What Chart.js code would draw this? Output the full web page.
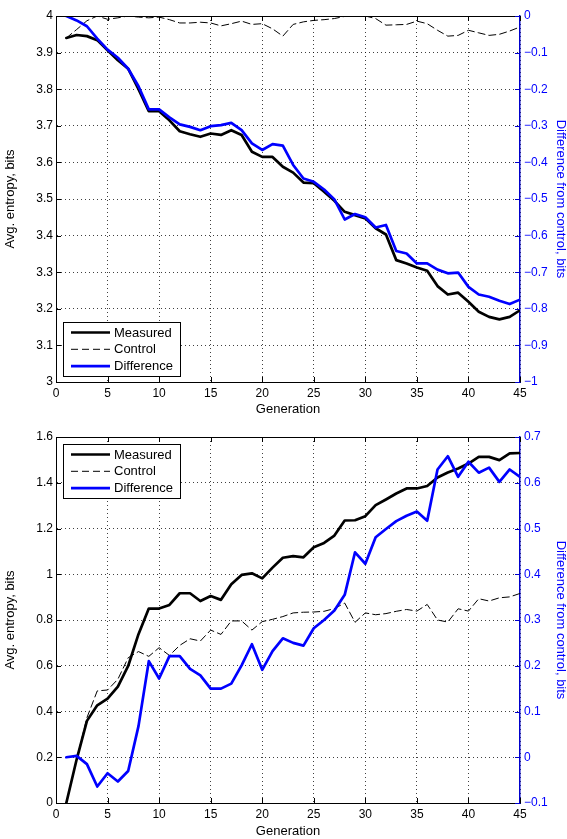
<!DOCTYPE html>
<html>
<head>
<meta charset="utf-8">
<script src="https://cdn.jsdelivr.net/npm/chart.js@4.4.1/dist/chart.umd.min.js"></script>
<style>
  html, body { margin: 0; padding: 0; background: #fff; }
  #page { position: relative; width: 567px; height: 839px; }
  .panel { position: absolute; left: 0; width: 567px; }
  #topPanel { top: 0; height: 420px; }
  #bottomPanel { top: 420px; height: 419px; }
</style>
</head>
<body>
<div id="page">
  <div class="panel" id="topPanel"><canvas id="topChart"></canvas></div>
  <div class="panel" id="bottomPanel"><canvas id="bottomChart"></canvas></div>
</div>
<script>
/**
 * Entropy per generation - two plotyy style panels
 */

const generations = [1, 2, 3, 4, 5, 6, 7, 8, 9, 10, 11, 12, 13, 14, 15, 16, 17, 18, 19, 20, 21, 22, 23,
  24, 25, 26, 27, 28, 29, 30, 31, 32, 33, 34, 35, 36, 37, 38, 39, 40, 41, 42, 43, 44, 45];
const xTicks = [0, 5, 10, 15, 20, 25, 30, 35, 40, 45];
const seriesNames = ['Measured', 'Control', 'Difference'];

// top panel
const topMeasured = [3.940, 3.948, 3.945, 3.934, 3.906, 3.879, 3.856, 3.800, 3.740, 3.740, 3.715, 3.685,
  3.677, 3.670, 3.679, 3.675, 3.688, 3.675, 3.629, 3.615, 3.615, 3.588, 3.572, 3.545, 3.543, 3.520, 3.495,
  3.465, 3.456, 3.447, 3.420, 3.403, 3.333, 3.324, 3.313, 3.304, 3.262, 3.239, 3.244, 3.219, 3.192, 3.178,
  3.171, 3.178, 3.196];
const topControl = [3.940, 3.963, 3.987, 4.000, 3.991, 3.995, 4.000, 3.997, 3.995, 3.997, 3.990, 3.981,
  3.981, 3.983, 3.981, 3.973, 3.979, 3.986, 3.977, 3.979, 3.965, 3.945, 3.977, 3.984, 3.988, 3.990, 3.993,
  3.999, 4.000, 4.000, 3.993, 3.975, 3.976, 3.977, 3.986, 3.979, 3.961, 3.945, 3.947, 3.961, 3.954, 3.947,
  3.950, 3.959, 3.970];
const topDifference = [0, -0.012, -0.028, -0.062, -0.092, -0.114, -0.144, -0.192, -0.255, -0.255, -0.277,
  -0.296, -0.303, -0.312, -0.301, -0.298, -0.292, -0.312, -0.348, -0.366, -0.350, -0.354, -0.407, -0.444,
  -0.453, -0.474, -0.501, -0.556, -0.541, -0.550, -0.578, -0.571, -0.642, -0.649, -0.676, -0.676, -0.693,
  -0.703, -0.701, -0.740, -0.761, -0.767, -0.778, -0.787, -0.775];
const topLeftTicks = [3, 3.1, 3.2, 3.3, 3.4, 3.5, 3.6, 3.7, 3.8, 3.9, 4];
const topRightTicks = [-1, -0.9, -0.8, -0.7, -0.6, -0.5, -0.4, -0.3, -0.2, -0.1, 0];

// bottom panel
const bottomMeasured = [0, 0.190, 0.359, 0.427, 0.456, 0.509, 0.599, 0.738, 0.850, 0.850, 0.866, 0.917,
  0.917, 0.883, 0.905, 0.888, 0.956, 0.997, 1.004, 0.982, 1.029, 1.072, 1.079, 1.074, 1.118, 1.137, 1.169,
  1.235, 1.236, 1.254, 1.302, 1.327, 1.353, 1.375, 1.375, 1.386, 1.423, 1.445, 1.462, 1.484, 1.513, 1.513,
  1.499, 1.528, 1.530];
const bottomControl = [0, 0.190, 0.373, 0.490, 0.494, 0.541, 0.635, 0.662, 0.641, 0.679, 0.645, 0.689,
  0.718, 0.708, 0.756, 0.737, 0.796, 0.796, 0.756, 0.793, 0.803, 0.815, 0.831, 0.834, 0.835, 0.838, 0.850,
  0.874, 0.790, 0.831, 0.823, 0.828, 0.838, 0.846, 0.839, 0.868, 0.800, 0.791, 0.849, 0.839, 0.893, 0.883,
  0.897, 0.901, 0.916];
const bottomDifference = [0, 0.003, -0.015, -0.064, -0.035, -0.053, -0.030, 0.068, 0.210, 0.172, 0.221,
  0.221, 0.193, 0.179, 0.150, 0.150, 0.161, 0.201, 0.247, 0.191, 0.232, 0.260, 0.250, 0.244, 0.282, 0.300,
  0.321, 0.355, 0.448, 0.423, 0.481, 0.499, 0.516, 0.528, 0.537, 0.517, 0.629, 0.658, 0.613, 0.646, 0.622,
  0.633, 0.602, 0.629, 0.613];
const bottomLeftTicks = [0, 0.2, 0.4, 0.6, 0.8, 1, 1.2, 1.4, 1.6];
const bottomRightTicks = [-0.1, 0, 0.1, 0.2, 0.3, 0.4, 0.5, 0.6, 0.7];

const BLUE = '#0000ff';
const AXIS_BLUE = '#0000cc';

Chart.defaults.font.family = '"Liberation Sans", Arial, Helvetica, sans-serif';
Chart.defaults.font.size = 12;
Chart.defaults.color = '#000';

function fmt(v) {
  const s = String(Math.round(v * 10) / 10);
  return s.replace('-', '\u2212');
}

function points(vals) {
  return generations.map((g, i) => ({ x: g, y: vals[i] }));
}

// box on top edge + matlab style inward ticks
const framePlugin = {
  id: 'frame',
  afterDatasetsDraw(chart) {
    const { ctx, chartArea: a, scales } = chart;
    ctx.save();
    ctx.lineWidth = 1;
    ctx.strokeStyle = '#000';
    ctx.beginPath();
    ctx.moveTo(a.left, a.top + 0.5);
    ctx.lineTo(a.right, a.top + 0.5);
    scales.x.ticks.forEach(t => {
      const px = Math.round(scales.x.getPixelForValue(t.value)) + 0.5;
      ctx.moveTo(px, a.bottom); ctx.lineTo(px, a.bottom - 5);
      ctx.moveTo(px, a.top); ctx.lineTo(px, a.top + 5);
    });
    scales.y.ticks.forEach(t => {
      const py = Math.round(scales.y.getPixelForValue(t.value)) + 0.5;
      ctx.moveTo(a.left, py); ctx.lineTo(a.left + 5, py);
    });
    ctx.stroke();
    ctx.strokeStyle = AXIS_BLUE;
    ctx.beginPath();
    scales.y2.ticks.forEach(t => {
      const py = Math.round(scales.y2.getPixelForValue(t.value)) + 0.5;
      ctx.moveTo(a.right, py); ctx.lineTo(a.right - 5, py);
    });
    ctx.stroke();
    ctx.restore();
  }
};

// legend box inside the plot area
const insideLegend = {
  id: 'insideLegend',
  afterDraw(chart, args, opts) {
    const { ctx } = chart;
    const left = opts.left, top = opts.top, w = 117, h = 54;
    ctx.save();
    ctx.fillStyle = '#fff';
    ctx.fillRect(left, top, w, h);
    ctx.strokeStyle = '#000';
    ctx.lineWidth = 1;
    ctx.strokeRect(left + 0.5, top + 0.5, w, h);
    const styles = [
      { color: '#000', width: 2.7, dash: [] },
      { color: '#000', width: 1, dash: [7, 4] },
      { color: BLUE, width: 2.7, dash: [] },
    ];
    ctx.font = '13px "Liberation Sans", Arial, sans-serif';
    ctx.textBaseline = 'middle';
    ctx.fillStyle = '#000';
    seriesNames.forEach((name, i) => {
      const y = top + 10.5 + 16.8 * i;
      ctx.beginPath();
      ctx.strokeStyle = styles[i].color;
      ctx.lineWidth = styles[i].width;
      ctx.setLineDash(styles[i].dash);
      ctx.moveTo(left + 8, y);
      ctx.lineTo(left + 47, y);
      ctx.stroke();
      ctx.setLineDash([]);
      ctx.fillText(name, left + 51, y + 0.5);
    });
    ctx.restore();
  }
};

function buildChart(canvasId, cfg) {
  const ctx = document.getElementById(canvasId);
  if (!ctx) return null;
  return new Chart(ctx, {
    type: 'line',
    data: {
      datasets: [
        {
          label: seriesNames[2],
          data: points(cfg.difference),
          yAxisID: 'y2',
          borderColor: BLUE,
          borderWidth: 2.7,
          order: 0,
        },
        {
          label: seriesNames[0],
          data: points(cfg.measured),
          yAxisID: 'y',
          borderColor: '#000',
          borderWidth: 2.7,
          order: 1,
        },
        {
          label: seriesNames[1],
          data: points(cfg.control),
          yAxisID: 'y',
          borderColor: '#000',
          borderWidth: 1,
          borderDash: [7, 4],
          order: 2,
        },
      ]
    },
    options: {
      responsive: true,
      maintainAspectRatio: false,
      animation: false,
      parsing: true,
      elements: {
        point: { radius: 0 },
        line: { tension: 0, borderJoinStyle: 'round', borderCapStyle: 'round' }
      },
      layout: { padding: { top: cfg.padTop, left: 0, right: 0, bottom: 0 } },
      plugins: {
        legend: { display: false },
        tooltip: { enabled: false },
        insideLegend: { left: 63, top: cfg.legendTop }
      },
      scales: {
        x: {
          type: 'linear',
          min: 0,
          max: 45,
          afterBuildTicks: s => { s.ticks = xTicks.map(v => ({ value: v })); },
          afterFit: s => { s.height = cfg.xHeight; },
          ticks: { padding: 4, maxRotation: 0, font: { size: 12 }, color: '#000' },
          grid: { color: 'rgba(0,0,0,0.75)', drawTicks: false, lineWidth: 1 },
          border: { color: '#000', width: 1, dash: [1, 3] },
          title: {
            display: true,
            text: 'Generation',
            font: { size: 13, lineHeight: 1 },
            padding: { top: 0, bottom: cfg.xTitlePad },
            color: '#000'
          }
        },
        y: {
          type: 'linear',
          position: 'left',
          min: cfg.leftTicks[0],
          max: cfg.leftTicks[cfg.leftTicks.length - 1],
          afterBuildTicks: s => { s.ticks = cfg.leftTicks.map(v => ({ value: v })); },
          afterFit: s => { s.width = 56; },
          ticks: { padding: 3, callback: v => fmt(v), color: '#000' },
          grid: { color: 'rgba(0,0,0,0.75)', drawTicks: false, lineWidth: 1 },
          border: { color: '#000', width: 1, dash: [1, 3] },
          title: {
            display: true,
            text: 'Avg. entropy, bits',
            font: { size: 13, lineHeight: 1 },
            padding: { top: 4, bottom: 0 },
            color: '#000'
          }
        },
        y2: {
          type: 'linear',
          position: 'right',
          min: cfg.rightTicks[0],
          max: cfg.rightTicks[cfg.rightTicks.length - 1],
          afterBuildTicks: s => { s.ticks = cfg.rightTicks.map(v => ({ value: v })); },
          afterFit: s => { s.width = 47; },
          ticks: { padding: 4, callback: v => fmt(v), color: BLUE },
          grid: { drawOnChartArea: false, drawTicks: false },
          border: { color: AXIS_BLUE, width: 1.5 },
          title: {
            display: true,
            text: 'Difference from control, bits',
            font: { size: 13, lineHeight: 1 },
            padding: { top: 0, bottom: 0 },
            color: BLUE
          }
        }
      }
    },
    plugins: [framePlugin, insideLegend]
  });
}

const topChart = buildChart('topChart', {
  measured: topMeasured,
  control: topControl,
  difference: topDifference,
  leftTicks: topLeftTicks,
  rightTicks: topRightTicks,
  padTop: 16,
  xHeight: 38,
  xTitlePad: 4.5,
  legendTop: 322
});

const bottomChart = buildChart('bottomChart', {
  measured: bottomMeasured,
  control: bottomControl,
  difference: bottomDifference,
  leftTicks: bottomLeftTicks,
  rightTicks: bottomRightTicks,
  padTop: 17,
  xHeight: 36,
  xTitlePad: 1.5,
  legendTop: 24
});
</script>
</body>
</html>
